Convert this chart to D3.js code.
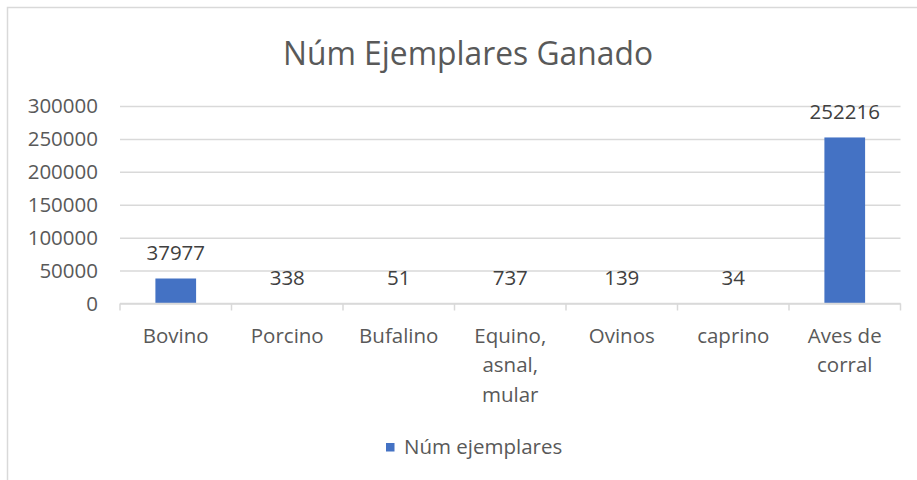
<!DOCTYPE html>
<html>
<head>
<meta charset="utf-8">
<script src="https://cdn.jsdelivr.net/npm/d3@7"></script>
<style>
  html, body { margin: 0; padding: 0; background: #fff; }
  svg { display: block; }
  text { font-family: "Open Sans", "Noto Sans", sans-serif; }
</style>
</head>
<body>
<svg id="chart" width="917" height="480"></svg>
<script>
// Livestock counts by type
const titleText = "Núm Ejemplares Ganado";
const seriesName = "Núm ejemplares";
const categories = ["Bovino", "Porcino", "Bufalino", "Equino, asnal, mular", "Ovinos", "caprino", "Aves de corral"];
const values = [37977, 338, 51, 737, 139, 34, 252216];
const yTicks = [0, 50000, 100000, 150000, 200000, 250000, 300000];

const W = 917, H = 480;
const margin = { left: 120, right: 16.5, top: 106, bottom: 176.5 };
const plotW = W - margin.left - margin.right;
const plotH = H - margin.top - margin.bottom;

const barColor = "#4472C4";
const gridColor = "#d9d9d9";
const axisText = "#595959";
const labelText = "#404040";

const svg = d3.select("#chart");

// chart area frame (runs past the right and bottom edges)
svg.append("rect")
  .attr("x", 7.5).attr("y", 7.5)
  .attr("width", W + 20).attr("height", H + 20)
  .attr("fill", "#fff")
  .attr("stroke", gridColor).attr("stroke-width", 1.5);

// title
svg.append("text")
  .attr("x", 468).attr("y", 64.5)
  .attr("text-anchor", "middle")
  .attr("fill", axisText)
  .attr("font-size", 32)
  .attr("font-weight", 400)
  .attr("textLength", 370)
  .attr("lengthAdjust", "spacingAndGlyphs")
  .text(titleText);

const g = svg.append("g").attr("transform", `translate(${margin.left},${margin.top})`);

const y = d3.scaleLinear().domain([0, 300000]).range([plotH, 0]);
const x = d3.scaleBand().domain(categories).range([0, plotW])
  .paddingInner(0.635).paddingOuter(0.3175);
const slots = d3.scaleBand().domain(categories).range([0, plotW]).padding(0);

// gridlines
const grid = g.append("g")
  .call(d3.axisLeft(y).tickValues(yTicks).tickSize(-plotW).tickFormat(""));
grid.select(".domain").remove();
grid.selectAll("line").attr("stroke", gridColor).attr("stroke-width", 1.5);

// y axis labels
const yAxis = g.append("g")
  .call(d3.axisLeft(y).tickValues(yTicks).tickSize(0).tickPadding(22).tickFormat(d3.format("d")));
yAxis.select(".domain").remove();
yAxis.selectAll("text")
  .attr("fill", axisText)
  .attr("font-size", 20.5)
  .style("font-family", "'Open Sans', sans-serif");

// bars
g.selectAll("rect.bar")
  .data(values)
  .join("rect")
  .attr("class", "bar")
  .attr("x", (d, i) => x(categories[i]))
  .attr("width", x.bandwidth())
  .attr("y", d => y(d))
  .attr("height", d => plotH - y(d))
  .attr("fill", barColor);

// category axis line and slot ticks
g.append("line")
  .attr("x1", 0).attr("x2", plotW)
  .attr("y1", plotH).attr("y2", plotH)
  .attr("stroke", gridColor).attr("stroke-width", 1.5);
const bounds = categories.map(c => slots(c)).concat([plotW]);
g.selectAll("line.slot")
  .data(bounds)
  .join("line")
  .attr("class", "slot")
  .attr("x1", d => d).attr("x2", d => d)
  .attr("y1", plotH).attr("y2", plotH + 7)
  .attr("stroke", gridColor).attr("stroke-width", 1.5);

// data labels
g.selectAll("text.val")
  .data(values)
  .join("text")
  .attr("class", "val")
  .attr("x", (d, i) => x(categories[i]) + x.bandwidth() / 2)
  .attr("y", d => y(d) - 18)
  .attr("text-anchor", "middle")
  .attr("fill", labelText)
  .attr("font-size", 20.5)
  .text(d => d);

// category labels, wrapped to fit their slot
const maxLine = 100;
categories.forEach(cat => {
  const cx = slots(cat) + slots.bandwidth() / 2;
  const t = g.append("text")
    .attr("x", cx)
    .attr("y", plotH + 39)
    .attr("text-anchor", "middle")
    .attr("fill", axisText)
    .attr("font-size", 20.5);
  const words = cat.split(" ");
  let line = [];
  let ts = t.append("tspan").attr("x", cx).attr("dy", 0);
  words.forEach(w => {
    line.push(w);
    ts.text(line.join(" "));
    if (ts.node().getComputedTextLength() > maxLine && line.length > 1) {
      line.pop();
      ts.text(line.join(" "));
      line = [w];
      ts = t.append("tspan").attr("x", cx).attr("dy", 29.5).text(w);
    }
  });
});

// legend
const leg = svg.append("g").attr("transform", "translate(386,443)");
leg.append("rect").attr("width", 8.5).attr("height", 8.5).attr("fill", barColor);
leg.append("text")
  .attr("x", 18).attr("y", 11)
  .attr("fill", axisText)
  .attr("font-size", 20.5)
  .text(seriesName);
</script>
</body>
</html>
